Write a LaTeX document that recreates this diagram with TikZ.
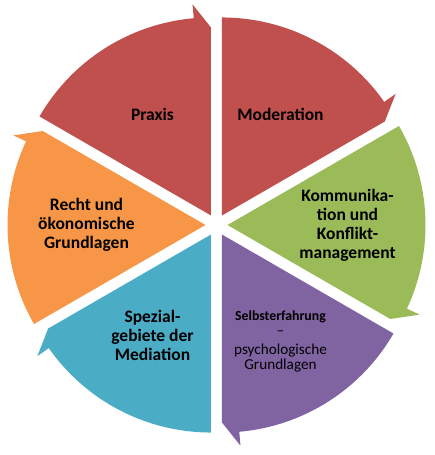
\documentclass[tikz,border=0pt]{standalone}
\usepackage{fontspec}
\setmainfont{Carlito}
\definecolor{segred}{HTML}{C0504D}
\definecolor{seggreen}{HTML}{9BBB59}
\definecolor{segpurple}{HTML}{8064A2}
\definecolor{segteal}{HTML}{4BACC6}
\definecolor{segorange}{HTML}{F79646}
\newcommand{\cycseg}[2]{%
    \fill[#2, shift={(#1:11pt)}] (0,0) -- (#1+30:198pt)
        arc[start angle=#1+30, end angle=#1-25, radius=198pt]
        -- (#1-25:212pt) -- (#1-30:188pt) -- cycle;
}

\begin{document}
\begin{tikzpicture}[
        every node/.style={font=\fontsize{17.5}{19}\selectfont\bfseries, align=center, text=black},
        small/.style={font=\fontsize{15.2}{15}\selectfont}
    ]
    \useasboundingbox (-216.5pt,-230pt) rectangle (218.5pt,225pt);

    \cycseg{120}{segred}
    \cycseg{60}{segred}
    \cycseg{0}{seggreen}
    \cycseg{-60}{segpurple}
    \cycseg{-120}{segteal}
    \cycseg{180}{segorange}

    \node (praxis) at (120:128pt) {Praxis};
    \node (moderation) at (60:128pt) {Moderation};
    \node (kommunikation) at (0:131pt) {Kommunika-\\tion und\\Konflikt-\\management};
    \node[small, yshift=-6pt] (selbst) at (-60:128pt) {{\bfseries\fontsize{13.8}{15}\selectfont Selbsterfahrung}\\–\\[4pt]psychologische\\Grundlagen};
    \node (spezial) at (-120:128pt) {Spezial-\\gebiete der\\Mediation};
    \node (recht) at (180:130pt) {Recht und\\ökonomische\\Grundlagen};
\end{tikzpicture}
\end{document}
